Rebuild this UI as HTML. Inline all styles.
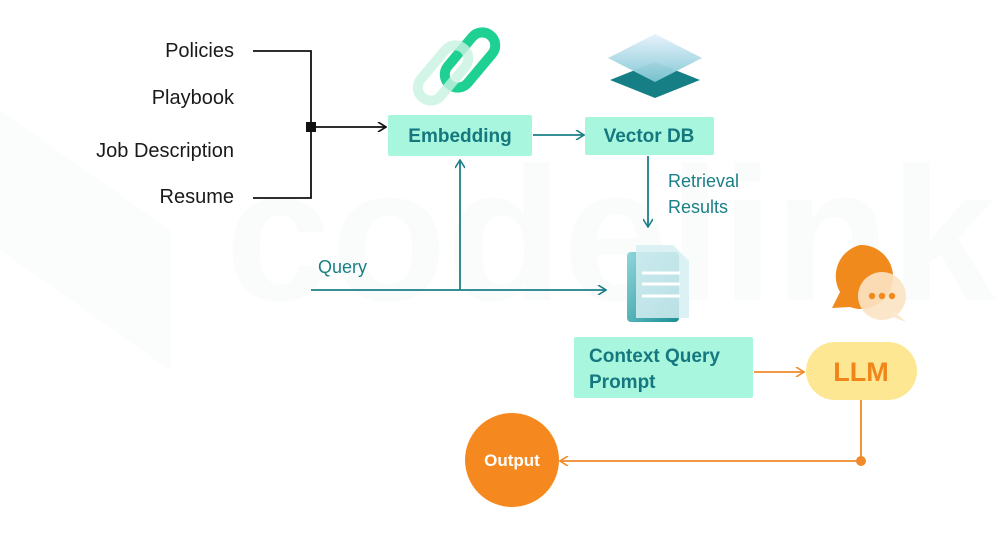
<!DOCTYPE html>
<html><head><meta charset="utf-8"><style>
html,body{margin:0;padding:0;background:#fff;}
svg{display:block;}
</style></head><body>
<svg width="1006" height="547" viewBox="0 0 1006 547" xmlns="http://www.w3.org/2000/svg" font-family="Liberation Sans, sans-serif">
<defs>
<marker id="at" viewBox="0 0 10 10" refX="9" refY="5" markerWidth="10" markerHeight="10" markerUnits="userSpaceOnUse" orient="auto"><path d="M1,0 L9,5 L1,10" fill="none" stroke="#1b7f86" stroke-width="1.6"/></marker>
<marker id="ab" viewBox="0 0 10 10" refX="9" refY="5" markerWidth="10" markerHeight="10" markerUnits="userSpaceOnUse" orient="auto"><path d="M1,0 L9,5 L1,10" fill="none" stroke="#111" stroke-width="1.6"/></marker>
<marker id="ao" viewBox="0 0 10 10" refX="9" refY="5" markerWidth="10" markerHeight="10" markerUnits="userSpaceOnUse" orient="auto"><path d="M1,0 L9,5 L1,10" fill="none" stroke="#f08a2a" stroke-width="1.6"/></marker>
<linearGradient id="doc" x1="0" y1="0" x2="1" y2="1"><stop offset="0" stop-color="#8fd6dc"/><stop offset="1" stop-color="#1a8f94"/></linearGradient>
<linearGradient id="layer" x1="0" y1="0" x2="0" y2="1"><stop offset="0" stop-color="#e6f1fd"/><stop offset="1" stop-color="#7cc6d2"/></linearGradient>
</defs>
<!-- watermark -->
<text x="225" y="300" font-size="190" font-weight="bold" fill="#fafbfb">codelink</text>
<path d="M0,110 L170,230 L170,370 L0,250 Z" fill="#fbfcfc"/>

<g font-size="20" fill="#1a1a1a" text-anchor="end">
<text x="234" y="57">Policies</text>
<text x="234" y="104">Playbook</text>
<text x="234" y="157">Job Description</text>
<text x="234" y="203">Resume</text>
</g>
<path d="M253,51 H311 V198 H253" fill="none" stroke="#111" stroke-width="1.8"/>
<rect x="306" y="122" width="10" height="10" fill="#111"/>
<line x1="311" y1="127" x2="386" y2="127" stroke="#111" stroke-width="1.8" marker-end="url(#ab)"/>

<!-- link icon -->
<rect x="-13" y="-32" width="26" height="64" rx="13" transform="translate(470,60) rotate(40)" fill="none" stroke="#1fd093" stroke-width="10"/>
<rect x="-13" y="-32" width="26" height="64" rx="13" transform="translate(443,73) rotate(40)" fill="none" stroke="#c8f3e2" stroke-width="10" opacity="0.8"/>
<!-- layers icon -->
<path d="M655,62 L700,80 L655,98 L610,80 Z" fill="#167f86"/>
<path d="M655,34 L702,58 L655,82 L608,58 Z" fill="url(#layer)" opacity="0.95"/>

<rect x="388" y="115" width="144" height="41" rx="2" fill="#a9f6df"/>
<text x="460" y="142" font-size="19" font-weight="bold" fill="#14787e" text-anchor="middle">Embedding</text>
<line x1="533" y1="135" x2="584" y2="135" stroke="#1b7f86" stroke-width="1.8" marker-end="url(#at)"/>
<rect x="585" y="117" width="129" height="38" rx="2" fill="#a9f6df"/>
<text x="649" y="142" font-size="19" font-weight="bold" fill="#14787e" text-anchor="middle">Vector DB</text>
<line x1="648" y1="156" x2="648" y2="227" stroke="#1b7f86" stroke-width="1.8" marker-end="url(#at)"/>
<text x="668" y="187" font-size="18" fill="#1b7f86">Retrieval</text>
<text x="668" y="213" font-size="18" fill="#1b7f86">Results</text>

<text x="318" y="273" font-size="18" fill="#1b7f86">Query</text>
<line x1="311" y1="290" x2="606" y2="290" stroke="#1b7f86" stroke-width="1.8" marker-end="url(#at)"/>
<line x1="460" y1="290" x2="460" y2="160" stroke="#1b7f86" stroke-width="1.8" marker-end="url(#at)"/>

<rect x="627" y="252" width="52" height="70" rx="4" fill="url(#doc)"/>
<path d="M636,245 H673 L689,261 V318 H636 Z" fill="#d6eef2" opacity="0.85"/>
<g stroke="#fff" stroke-width="3"><line x1="642" y1="273" x2="680" y2="273"/><line x1="642" y1="284" x2="680" y2="284"/><line x1="642" y1="296" x2="680" y2="296"/></g>

<path d="M860,245 a32,32 0 1 1 -10,62 L832,308 L840,292 a32,32 0 0 1 20,-47 Z" fill="#f08a1c"/>
<circle cx="882" cy="296" r="24" fill="#fbe3c4" opacity="0.9"/>
<path d="M895,312 L906,322 L890,316 Z" fill="#fbe8d0"/>
<g fill="#f08a1c"><circle cx="872" cy="296" r="3.2"/><circle cx="882" cy="296" r="3.2"/><circle cx="892" cy="296" r="3.2"/></g>

<rect x="574" y="337" width="179" height="61" rx="2" fill="#a9f6df"/>
<text x="589" y="362" font-size="19" font-weight="bold" fill="#14787e">Context Query</text>
<text x="589" y="388" font-size="19" font-weight="bold" fill="#14787e">Prompt</text>
<line x1="754" y1="372" x2="804" y2="372" stroke="#f08a2a" stroke-width="1.8" marker-end="url(#ao)"/>
<rect x="806" y="342" width="111" height="58" rx="29" fill="#fde792"/>
<text x="861" y="381" font-size="27" font-weight="bold" fill="#f0861a" text-anchor="middle">LLM</text>

<path d="M861,400 V461 H560" fill="none" stroke="#f08a2a" stroke-width="1.8" marker-end="url(#ao)"/>
<circle cx="861" cy="461" r="5" fill="#f08a2a"/>
<circle cx="512" cy="460" r="47" fill="#f5891f"/>
<text x="512" y="466" font-size="17" font-weight="bold" fill="#fff" text-anchor="middle">Output</text>
</svg>
</body></html>
